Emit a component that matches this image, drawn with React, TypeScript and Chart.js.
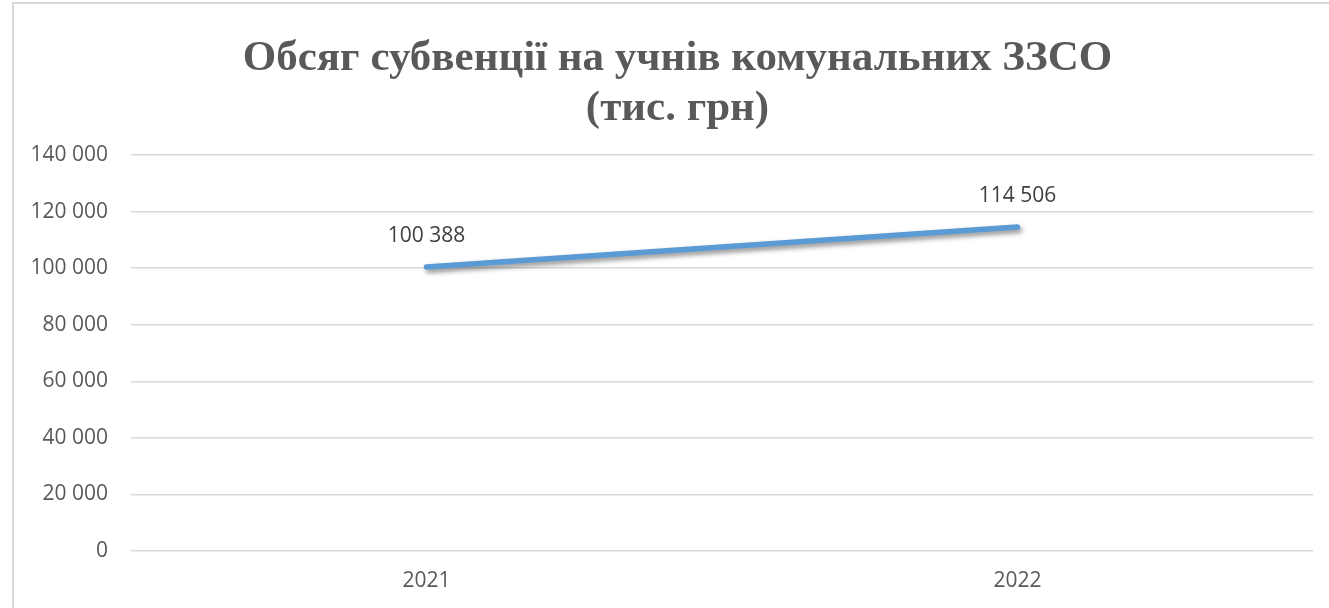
import React, { useEffect, useRef } from "react";
import { Chart, registerables } from "chart.js";

Chart.register(...registerables);

const categories = ["2021", "2022"];
const values = [100388, 114506];
const titleLines = ["Обсяг субвенції на учнів комунальних ЗЗСО", "(тис. грн)"];
const yMin = 0;
const yMax = 140000;
const yStep = 20000;

const fmt = (v: number) => {
  const s = Math.round(v).toString();
  return s.replace(/\B(?=(\d{3})+(?!\d))/g, " ");
};

const shadowPlugin = {
  id: "lineShadow",
  beforeDatasetDraw(chart: any) {
    const ctx = chart.ctx;
    ctx.save();
    ctx.shadowColor = "rgba(0,0,0,0.45)";
    ctx.shadowBlur = 5;
    ctx.shadowOffsetX = 2;
    ctx.shadowOffsetY = 3;
  },
  afterDatasetDraw(chart: any) {
    chart.ctx.restore();
  },
};

const labelPlugin = {
  id: "valueLabels",
  afterDatasetsDraw(chart: any) {
    const ctx = chart.ctx;
    const meta = chart.getDatasetMeta(0);
    ctx.save();
    ctx.font = "21px 'Open Sans'";
    ctx.fillStyle = "#404040";
    ctx.textAlign = "center";
    ctx.textBaseline = "middle";
    meta.data.forEach((pt: any, i: number) => {
      ctx.fillText(fmt(values[i]), pt.x, pt.y - 31);
    });
    ctx.restore();
  },
};

// Title drawn centred on the whole framed chart object (frame starts at x=12)
const titlePlugin = {
  id: "frameTitle",
  afterDraw(chart: any) {
    const ctx = chart.ctx;
    ctx.save();
    ctx.font = "bold 43px 'Liberation Serif', 'Times New Roman', serif";
    ctx.fillStyle = "#595959";
    ctx.textAlign = "center";
    ctx.textBaseline = "alphabetic";
    const cx = (chart.width + 26) / 2;
    titleLines.forEach((line: string, i: number) => {
      ctx.fillText(line, cx, 70 + i * 50);
    });
    ctx.restore();
  },
};

export default function App() {
  const ref = useRef<HTMLCanvasElement>(null);
  useEffect(() => {
    if (!ref.current) return;
    const chart = new Chart(ref.current, {
      type: "line",
      data: {
        labels: categories,
        datasets: [
          {
            data: values,
            borderColor: "#5B9BD5",
            borderWidth: 5.5,
            borderCapStyle: "round",
            pointRadius: 0,
            pointHoverRadius: 0,
            tension: 0,
            fill: false,
          },
        ],
      },
      options: {
        responsive: false,
        animation: false,
        devicePixelRatio: 1,
        layout: { padding: { left: 0, right: 16, top: 155, bottom: 0 } },
        plugins: {
          legend: { display: false },
          tooltip: { enabled: false },
          title: { display: false },
        },
        scales: {
          x: {
            type: "category",
            offset: true,
            grid: { display: false, drawTicks: false },
            border: { display: false },
            ticks: { color: "#595959", font: { family: "'Open Sans'", size: 21 }, padding: 17 },
            afterFit(scale: any) {
              scale.height = 57;
            },
          },
          y: {
            min: yMin,
            max: yMax,
            grid: { color: "#d9d9d9", lineWidth: 1.5, drawTicks: false },
            border: { display: false },
            ticks: {
              stepSize: yStep,
              color: "#595959",
              font: { family: "'Open Sans'", size: 21 },
              padding: 23,
              callback: (v: any) => fmt(Number(v)),
            },
            afterFit(scale: any) {
              scale.width = 131;
            },
          },
        },
      },
      plugins: [shadowPlugin, labelPlugin, titlePlugin],
    });
    return () => chart.destroy();
  }, []);

  return (
    <div style={{ position: "fixed", left: 0, top: 0, width: 1329, height: 608, background: "#fff", overflow: "hidden" }}>
      <div
        style={{
          position: "absolute",
          left: 12,
          top: 2,
          width: 1400,
          height: 700,
          borderLeft: "2px solid #d9d9d9",
          borderTop: "2px solid #d9d9d9",
        }}
      />
      <canvas ref={ref} width={1329} height={608} style={{ position: "absolute", left: 0, top: 0 }} />
    </div>
  );
}
